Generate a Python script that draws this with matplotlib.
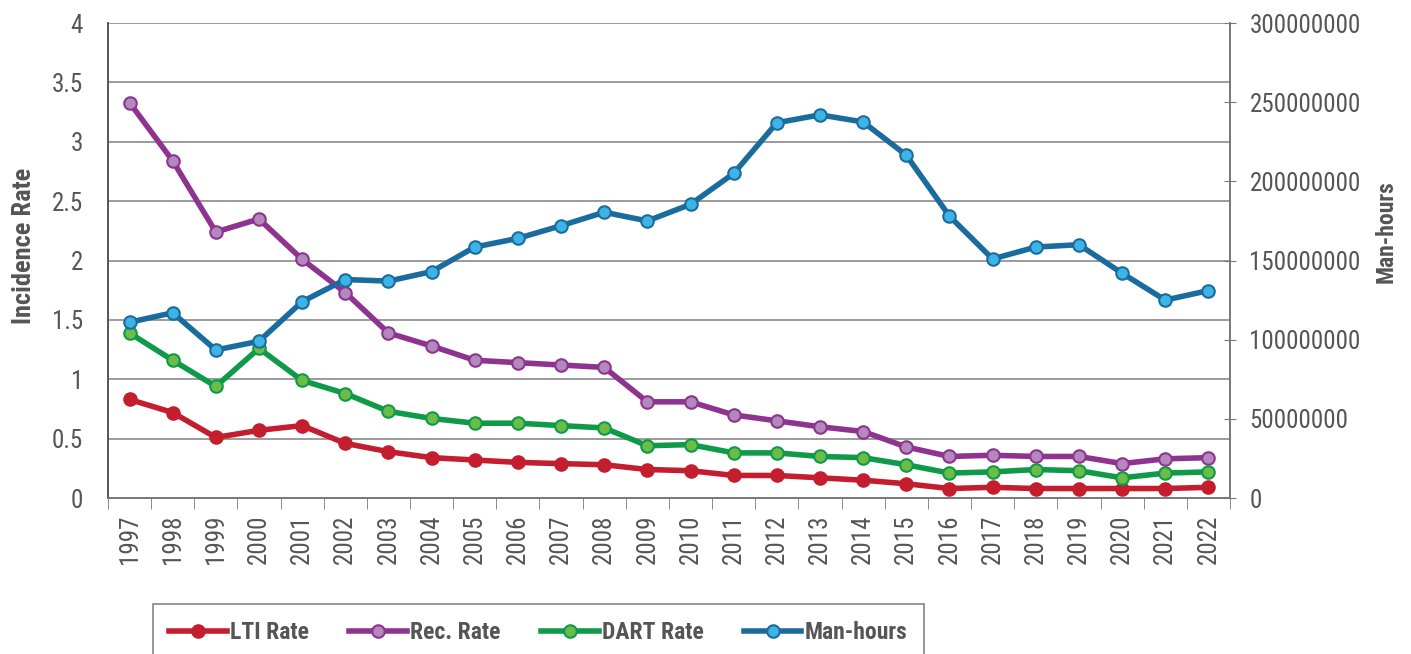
import matplotlib
matplotlib.use("Agg")
import matplotlib.pyplot as plt
from matplotlib import font_manager as fm
import numpy as np

# pick a narrow family (regular and bold faces) if the machine has one
def _w(f):
    w = f.weight
    if isinstance(w, str):
        w = {"bold": 700, "normal": 400, "regular": 400, "light": 300,
             "medium": 500, "semibold": 600}.get(w, 400)
    return w

narrow = [f for f in fm.fontManager.ttflist
          if ("Narrow" in f.name or "Condensed" in f.name or "Narrow" in f.fname
              or "Condensed" in f.fname
              or str(f.stretch) in ("condensed", "semi-condensed", "extra-condensed"))
          and f.style == "normal"]
groups = {}
for f in narrow:
    groups.setdefault(f.name, []).append(f)

pref = ["Roboto Condensed", "Liberation Sans Narrow", "Open Sans Condensed",
        "Noto Sans", "Lato", "Inter", "Open Sans", "Roboto"]
names = sorted(groups, key=lambda n: (("DejaVu" in n),
                                      pref.index(n) if n in pref else len(pref)))
REG = fm.FontProperties(family="DejaVu Sans")
BLD = fm.FontProperties(family="DejaVu Sans", weight="bold")
for n in names:
    fs = groups[n]
    r = sorted(fs, key=lambda f: abs(_w(f) - 400))[0]
    b = sorted(fs, key=lambda f: abs(_w(f) - 700))[0]
    REG = fm.FontProperties(fname=r.fname)
    BLD = fm.FontProperties(fname=b.fname)
    break


def fp(base, size):
    p = base.copy()
    p.set_size(size)
    return p


years = [str(y) for y in range(1997, 2023)]
lti_rate = [0.83, 0.72, 0.51, 0.57, 0.61, 0.46, 0.39, 0.34, 0.32, 0.30, 0.29, 0.28, 0.24,
            0.23, 0.19, 0.19, 0.17, 0.15, 0.12, 0.08, 0.09, 0.08, 0.08, 0.08, 0.08, 0.09]
rec_rate = [3.33, 2.84, 2.24, 2.35, 2.01, 1.73, 1.39, 1.28, 1.16, 1.14, 1.12, 1.10, 0.81,
            0.81, 0.70, 0.65, 0.60, 0.56, 0.43, 0.35, 0.36, 0.35, 0.35, 0.29, 0.33, 0.34]
dart_rate = [1.39, 1.16, 0.94, 1.26, 0.99, 0.88, 0.73, 0.67, 0.63, 0.63, 0.61, 0.59, 0.44,
             0.45, 0.38, 0.38, 0.35, 0.34, 0.28, 0.21, 0.22, 0.24, 0.23, 0.17, 0.21, 0.22]
man_hours = [111e6, 117e6, 93.5e6, 99e6, 124e6, 138e6, 137e6, 143e6, 158.5e6, 164e6,
             172e6, 180.5e6, 175e6, 185.5e6, 205e6, 237e6, 242e6, 237.5e6, 216.5e6,
             178e6, 151e6, 158.5e6, 160e6, 142e6, 125e6, 131e6]
left_ticks = ["0", "0.5", "1", "1.5", "2", "2.5", "3", "3.5", "4"]

TXT = "#555555"
x = np.arange(len(years))

fig = plt.figure(figsize=(14.11, 6.54), dpi=100)
ax = fig.add_axes([0.0765, 0.2385, 0.7952, 0.7263])
ax2 = ax.twinx()

ax.set_xlim(-0.5, len(years) - 0.5)
ax.set_ylim(0, 4)
ax2.set_ylim(0, 300e6)

for yv in np.arange(0.5, 4.01, 0.5):
    ax.axhline(yv, color="#8a8a8a", lw=1.2, zorder=0)

lw = 4
ms = 9
style = [
    (lti_rate, "LTI Rate", "#c41e2e", "#c41e2e"),
    (rec_rate, "Rec. Rate", "#8e3390", "#b389bd"),
    (dart_rate, "DART Rate", "#0e9a48", "#6cbd48"),
]
handles = []
for vals, name, col, fill in style:
    h, = ax.plot(x, vals, color=col, lw=lw, marker="o", ms=ms, mfc=fill,
                 mec=col, mew=1.5, label=name, zorder=3)
    handles.append(h)
h, = ax2.plot(x, man_hours, color="#1b6c9e", lw=lw, marker="o", ms=ms, mfc="#3db4e5",
              mec="#1b6c9e", mew=1.5, label="Man-hours", zorder=3)
handles.append(h)

ax.set_xticks(x)
ax.set_xticklabels(years, rotation=90, color=TXT, fontproperties=fp(REG, 18))
ax.set_xticks(np.arange(-0.5, len(years), 1), minor=True)
ax.tick_params(axis="x", which="major", length=0, pad=12)
ax.tick_params(axis="x", which="minor", length=8, color="#777777", direction="out")

ax.set_yticks(np.arange(0, 4.01, 0.5))
ax.set_yticklabels(left_ticks, color=TXT, fontproperties=fp(REG, 18))
ax.tick_params(axis="y", length=0, pad=18)

ax2.set_yticks(np.arange(0, 300e6 + 1, 50e6))
ax2.set_yticklabels([f"{int(v)}" for v in np.arange(0, 300e6 + 1, 50e6)],
                    color=TXT, fontproperties=fp(REG, 18))
ax2.tick_params(axis="y", length=8, direction="inout", color="#777777", pad=10)

ax.set_ylabel("Incidence Rate", color=TXT, fontproperties=fp(BLD, 19))
ax.yaxis.set_label_coords(-0.064, 0.53)
ax2.set_ylabel("Man-hours", color=TXT, fontproperties=fp(BLD, 17))
ax2.yaxis.set_label_coords(1.129, 0.56)

for a in (ax, ax2):
    a.spines["top"].set_visible(False)
    a.spines["left"].set_color("#555555")
    a.spines["right"].set_color("#777777")
    a.spines["bottom"].set_color("#777777")
    a.spines["left"].set_linewidth(1.2)
    a.spines["right"].set_linewidth(1.2)
    a.spines["bottom"].set_linewidth(1.2)

leg = fig.legend(handles=handles, loc="lower left", bbox_to_anchor=(0.1, -0.028),
                 ncol=4, frameon=True, fancybox=False,
                 handlelength=2.45, handletextpad=0.13, columnspacing=1.7,
                 borderpad=0.7, prop=fp(BLD, 17))
leg.get_frame().set_edgecolor("#666666")
leg.get_frame().set_linewidth(1.2)
for t in leg.get_texts():
    t.set_color(TXT)

fig.savefig("out.png", dpi=100)
